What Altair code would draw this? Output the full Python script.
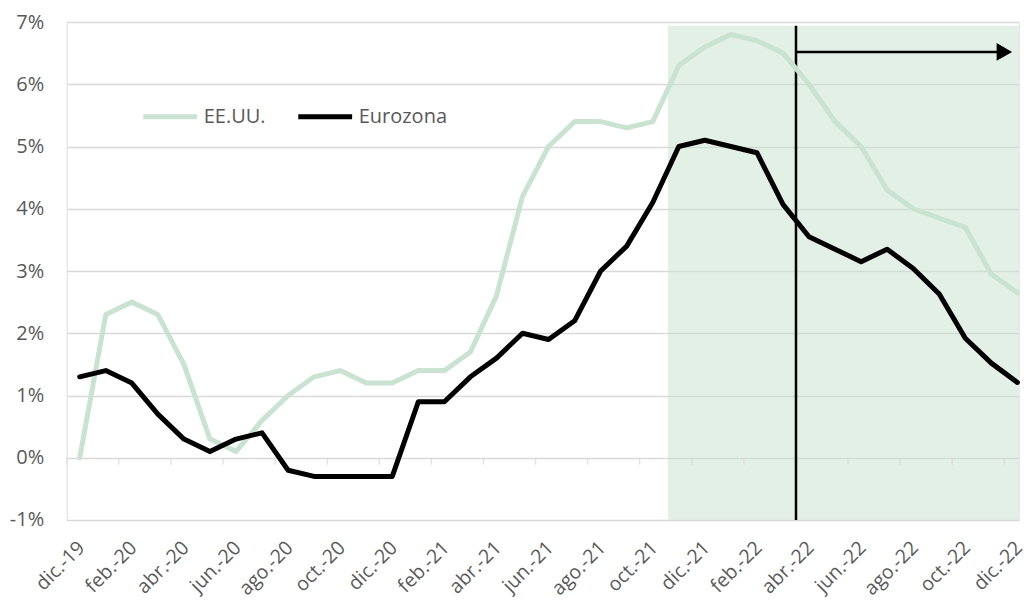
import altair as alt
import pandas as pd

months = ["dic.-19", "ene.-20", "feb.-20", "mar.-20", "abr.-20", "may.-20", "jun.-20",
          "jul.-20", "ago.-20", "sep.-20", "oct.-20", "nov.-20", "dic.-20",
          "ene.-21", "feb.-21", "mar.-21", "abr.-21", "may.-21", "jun.-21",
          "jul.-21", "ago.-21", "sep.-21", "oct.-21", "nov.-21", "dic.-21",
          "ene.-22", "feb.-22", "mar.-22", "abr.-22", "may.-22", "jun.-22",
          "jul.-22", "ago.-22", "sep.-22", "oct.-22", "nov.-22", "dic.-22"]

usa = [0.0, 2.3, 2.5, 2.3, 1.5, 0.3, 0.1, 0.6, 1.0, 1.3, 1.4, 1.2, 1.2,
       1.4, 1.4, 1.7, 2.6, 4.2, 5.0, 5.4, 5.4, 5.3, 5.4, 6.3, 6.6,
       6.8, 6.7, 6.5, 6.0, 5.4, 5.0, 4.3, 4.0, 3.85, 3.7, 2.95, 2.65]

eurozona = [1.3, 1.4, 1.2, 0.7, 0.3, 0.1, 0.3, 0.4, -0.2, -0.3, -0.3, -0.3, -0.3,
            0.9, 0.9, 1.3, 1.6, 2.0, 1.9, 2.2, 3.0, 3.4, 4.1, 5.0, 5.1,
            5.0, 4.9, 4.07, 3.55, 3.35, 3.15, 3.35, 3.04, 2.63, 1.92, 1.52, 1.21]

series_names = ["EE.UU.", "Eurozona"]
series_colors = ["#C8E4D1", "#000000"]

y_ticks = [-1, 0, 1, 2, 3, 4, 5, 6, 7]
label_idx = list(range(0, 37, 2))
tick_pos = [i - 0.5 for i in range(0, 37, 2)]

# shaded period (nov.-21 -> end) and forecast marker (abr.-22)
XDOM = [-0.5, 36.05]
shade_start, shade_end, shade_top = 22.58, XDOM[1], 6.94
marker_x = 27.5
arrow_y, arrow_end, head_x = 6.52, 35.3, 35.5

TEXT = "#595959"
GRID = "#D9D9D9"

rows = []
for name, vals in zip(series_names, [usa, eurozona]):
    for i, v in enumerate(vals):
        rows.append({"i": i, "mes": months[i], "serie": name, "valor": v})
df = pd.DataFrame(rows)

label_expr = "[" + ",".join("'" + m + "'" for m in months) + "][datum.value]"

xscale = alt.Scale(domain=XDOM, nice=False, zero=False)
yscale = alt.Scale(domain=[-1, 7], nice=False, zero=False)

shade = alt.Chart(pd.DataFrame({"a": [shade_start], "b": [shade_end], "lo": [-1], "hi": [shade_top]})).mark_rect(
    color="#C5E1CD", opacity=0.5
).encode(
    x=alt.X("a:Q", scale=xscale,
            axis=alt.Axis(values=label_idx, labelExpr=label_expr, labelAngle=-45,
                          labelAlign="right", labelBaseline="top", labelPadding=18,
                          labelOffset=-5, labelOverlap=False, labelBound=False,
                          ticks=False, tickSize=0, domain=False, grid=False,
                          title=None, labelFontSize=19.5, labelColor=TEXT, labelFont="Open Sans")),
    x2="b:Q",
    y=alt.Y("lo:Q", scale=yscale,
            axis=alt.Axis(values=y_ticks, labelExpr="datum.value + '%'", ticks=False, tickSize=0,
                          domain=False, grid=True, gridColor=GRID, gridWidth=1.5,
                          labelPadding=23, title=None, labelFontSize=20, labelColor=TEXT,
                          labelFont="Open Sans")),
    y2="hi:Q",
)

ticks = alt.Chart(pd.DataFrame({"t": tick_pos, "z": [0] * len(tick_pos)})).mark_tick(
    orient="vertical", size=7, thickness=1.5, yOffset=3.5, color=GRID
).encode(x=alt.X("t:Q", scale=xscale), y=alt.Y("z:Q", scale=yscale))

vline = alt.Chart(pd.DataFrame({"x": [marker_x], "lo": [-1], "hi": [shade_top]})).mark_rule(
    color="black", strokeWidth=2.5
).encode(x=alt.X("x:Q", scale=xscale), y=alt.Y("lo:Q", scale=yscale), y2="hi:Q")

arrow = alt.Chart(pd.DataFrame({"x": [marker_x], "x2": [arrow_end], "y": [arrow_y]})).mark_rule(
    color="black", strokeWidth=2.5
).encode(x=alt.X("x:Q", scale=xscale), x2="x2:Q", y=alt.Y("y:Q", scale=yscale))

head = alt.Chart(pd.DataFrame({"x": [head_x], "y": [arrow_y]})).mark_point(
    shape="triangle-right", filled=True, color="black", opacity=1, size=320
).encode(x=alt.X("x:Q", scale=xscale), y=alt.Y("y:Q", scale=yscale))

lines = alt.Chart(df).mark_line(strokeWidth=5, strokeCap="round", strokeJoin="round").encode(
    x=alt.X("i:Q", scale=xscale),
    y=alt.Y("valor:Q", scale=yscale),
    color=alt.Color("serie:N", scale=alt.Scale(domain=series_names, range=series_colors),
                    legend=alt.Legend(orient="none", legendX=74, legendY=65, direction="horizontal",
                                      title=None, symbolType="stroke", symbolSize=2900,
                                      symbolStrokeWidth=5, labelFontSize=20, labelColor=TEXT,
                                      labelFont="Open Sans", labelOffset=4, columnPadding=22)),
    order="i:Q",
)

chart = alt.layer(shade, ticks, vline, arrow, head, lines).properties(
    width=952, height=498,
    autosize=alt.AutoSizeParams(type="none"),
    padding={"left": 58.7, "top": 14, "right": 6.7, "bottom": 80},
).configure_view(stroke=None).configure(font="Open Sans")

chart.save("out.html", embed_options={"renderer": "svg", "actions": False})
